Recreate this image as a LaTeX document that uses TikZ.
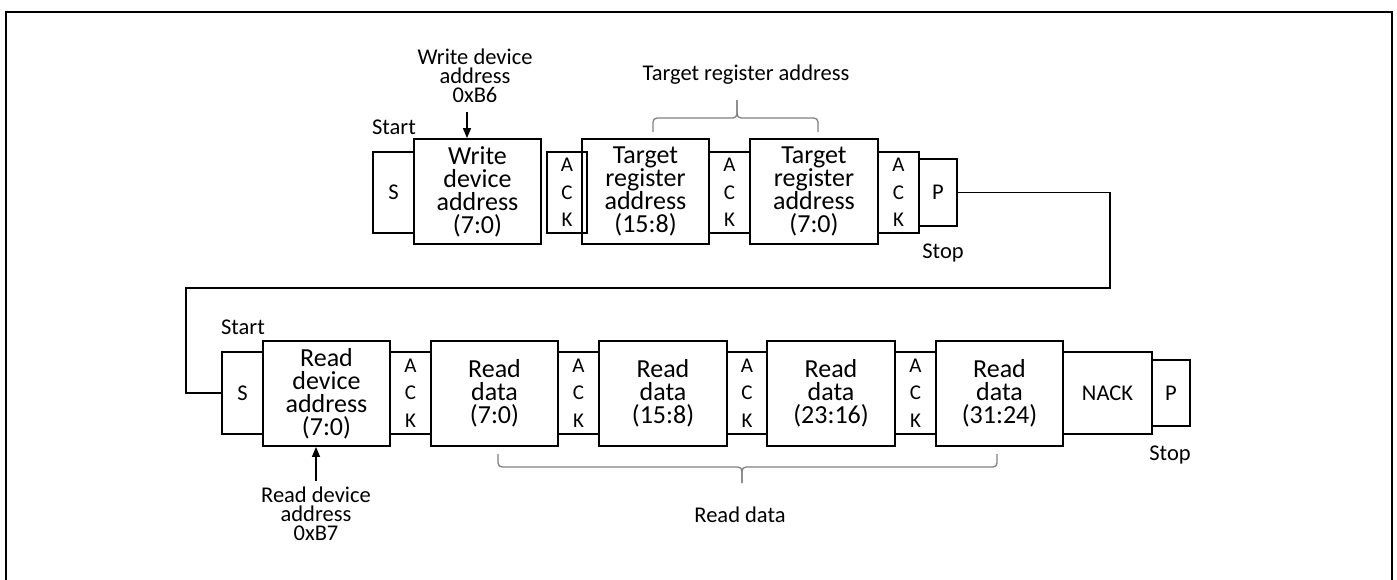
\documentclass[tikz,border=0pt]{standalone}
\usepackage{fontspec}
\setmainfont{Carlito}
\usetikzlibrary{arrows.meta}
\begin{document}
\begin{tikzpicture}[x=1pt,y=-1pt,
  box/.style={draw, line width=1.8pt, inner sep=0pt, align=center},
  bigbox/.style={box, minimum width=127pt, minimum height=105pt, font=\fontsize{26}{23}\selectfont},
  ackbox/.style={box, minimum width=41pt, minimum height=81pt, font=\fontsize{21}{27.5}\selectfont},
  sbox/.style={box, minimum width=41pt, minimum height=81pt, font=\fontsize{22.5}{22.5}\selectfont},
  pbox/.style={box, minimum width=38pt, minimum height=67pt, font=\fontsize{22.5}{22.5}\selectfont},
  lbl/.style={inner sep=0pt, align=center, font=\fontsize{22.5}{19}\selectfont},
  wire/.style={line width=1.8pt},
  ptr/.style={line width=1.2pt, -{Triangle[length=10pt,width=8pt]}},
  bracepath/.style={line width=1.3pt, draw=black!50, rounded corners=4pt}
]
\useasboundingbox (0,0) rectangle (1397,579);
% frame
\draw[line width=2.5pt] (6,12) rectangle (1392,600);

% top row
\node[sbox] (S1) at (393.5,192.5) {S};
\node[bigbox] (W) at (477.5,191.5) {Write\\device\\address\\(7:0)};
\node[ackbox, minimum width=40pt] (A1) at (567,192.5) {A\\C\\K};
\node[bigbox] (T1) at (645.5,191.5) {Target\\register\\address\\(15:8)};
\node[ackbox] (A2) at (729.5,192.5) {A\\C\\K};
\node[bigbox, minimum width=128pt] (T2) at (814,191.5) {Target\\register\\address\\(7:0)};
\node[ackbox] (A3) at (898.5,192.5) {A\\C\\K};
\node[pbox] (P1) at (938,192.5) {P};

\node[lbl] (start1) at (394,127) {Start};
\node[lbl] (stop1) at (943,253) {Stop};
\node[lbl] (wlab) at (475,75.5) {Write device\\address\\0xB6};
\coordinate (a1) at (467,112);
\draw[ptr] (a1) -- (a1 |- W.north);

\node[lbl] (tlab) at (746,75) {Target register address};
\draw[bracepath] (653,132) -- (653,118) -- (737,118) -- (737,100);
\draw[bracepath] (737,100) -- (737,118) -- (818,118) -- (818,132);

% bottom row
\node[sbox, minimum height=82pt] (S2) at (242.5,393) {S};
\node[bigbox] (R0) at (326.5,393.5) {Read\\device\\address\\(7:0)};
\node[ackbox, minimum height=82pt] (K1) at (410.5,393) {A\\C\\K};
\node[bigbox] (R1) at (494.5,393.5) {Read\\data\\(7:0)};
\node[ackbox, minimum height=82pt] (K2) at (578.5,393) {A\\C\\K};
\node[bigbox, minimum width=128pt] (R2) at (663,393.5) {Read\\data\\(15:8)};
\node[ackbox, minimum width=40pt, minimum height=82pt] (K3) at (747,393) {A\\C\\K};
\node[bigbox, minimum width=128pt] (R3) at (831,393.5) {Read\\data\\(23:16)};
\node[ackbox, minimum height=82pt] (K4) at (915.5,393) {A\\C\\K};
\node[bigbox] (R4) at (999.5,393.5) {Read\\data\\(31:24)};
\node[sbox, minimum width=89pt, minimum height=82pt] (N) at (1107.5,393) {NACK};
\node[pbox, minimum height=66pt] (P2) at (1171,393) {P};

\node[lbl] (start2) at (243,327) {Start};
\node[lbl] (stop2) at (1170,455) {Stop};
\node[lbl] (rlab) at (316,514) {Read device\\address\\0xB7};
\coordinate (a2) at (316,481);
\draw[ptr] (a2) -- (a2 |- R0.south);

\node[lbl] (dlab) at (740,515) {Read data};
\draw[bracepath] (498,454) -- (498,467) -- (742,467) -- (742,483);
\draw[bracepath] (742,483) -- (742,467) -- (997,467) -- (997,454);

% connector between rows
\coordinate (c1) at (1110,288);
\coordinate (c2) at (186,288);
\draw[wire] (P1.east) -| (c1) -- (c2) |- (S2.west);
\end{tikzpicture}
\end{document}
